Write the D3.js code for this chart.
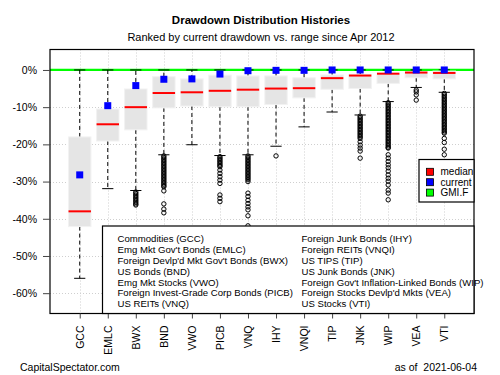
<!DOCTYPE html>
<html>
<head>
<meta charset="utf-8">
<script src="https://cdn.jsdelivr.net/npm/d3@7"></script>
<style>
body { margin: 0; background: #fff; }
text { font-family: "Liberation Sans", Arial, sans-serif; fill: #000; }
</style>
</head>
<body>
<svg id="svg"></svg>
<script>
var width = 500, height = 375;
var margin = {top: 49.5, bottom: 61.5, right: 26, left: 50};

// tickers, ranked by current drawdown
var tickers = ["GCC", "EMLC", "BWX", "BND", "VWO", "PICB", "VNQ", "IHY", "VNQI", "TIP", "JNK", "WIP", "VEA", "VTI"];
var names = ["Commodities (GCC)", "Emg Mkt Gov't Bonds (EMLC)", "Foreign Devlp'd Mkt Gov't Bonds (BWX)", "US Bonds (BND)",
	"Emg Mkt Stocks (VWO)", "Foreign Invest-Grade Corp Bonds (PICB)", "US REITs (VNQ)", "Foreign Junk Bonds (IHY)",
	"Foreign REITs (VNQI)", "US TIPS (TIP)", "US Junk Bonds (JNK)", "Foreign Gov't Inflation-Linked Bonds (WIP)",
	"Foreign Stocks Devlp'd Mkts (VEA)", "US Stocks (VTI)"];

// box stats in %
var boxTop    = [-18.0, -10.5, -5.1, -1.8, -2.4, -1.4, -1.6, -1.6, -2.1, -1.35, -1.2, -0.9, -0.45, -0.3];
var boxBottom = [-42.1, -19.1, -16.1, -10.2, -9.7, -9.9, -9.9, -9.3, -7.5, -5.2, -5.0, -3.6, -2.1, -2.4];
var medians   = [-38.0, -14.6, -10.0, -6.2, -6.0, -5.6, -5.3, -5.0, -4.9, -2.2, -1.5, -1.0, -0.7, -0.8];
var whiskLow  = [-56.0, -31.9, -32.4, -22.8, -20.1, -23.0, -22.8, -20.5, -15.3, -11.3, -12.1, -8.5, -4.7, -6.0];
var whiskHigh = [0, 0, 0, 0, 0, 0, 0, 0, 0, 0, 0, 0, 0, 0];
var current   = [-28.2, -9.6, -4.2, -2.5, -2.4, -1.1, -0.2, -0.1, -0.1, 0, 0, 0, 0, 0];

var outliers = [
	[],
	[],
	[-32.8, -33.2, -33.6, -34.0, -34.4, -34.8, -35.2, -35.6, -36.0, -36.3],
	[-23.1, -23.5, -23.9, -24.3, -24.7, -25.1, -25.5, -25.9, -26.3, -26.7, -27.1, -27.5, -27.9, -28.3, -28.7, -29.1, -29.5, -29.9, -30.3, -30.7, -31.1, -31.4, -32.5, -36.0, -37.4, -38.4],
	[],
	[-23.3, -23.7, -24.1, -24.5, -24.9, -25.3, -25.7, -26.0, -26.9, -27.8, -28.7, -29.6, -30.5, -33.6, -34.5, -35.4],
	[-23.1, -23.5, -23.9, -24.3, -24.7, -25.1, -25.5, -25.9, -26.3, -26.7, -27.1, -27.5, -27.9, -28.3, -28.7, -29.1, -29.5, -30.0, -33.1, -34.0, -35.0, -35.9, -36.8, -37.6, -39.2, -41.9],
	[-23.1],
	[],
	[],
	[-12.4, -12.8, -13.2, -13.6, -14.0, -14.4, -14.8, -15.2, -15.6, -16.0, -16.4, -16.8, -17.2, -17.6, -18.0, -18.4, -19.3, -20.2, -21.0, -21.8, -23.7],
	[-8.8, -9.2, -9.6, -10.0, -10.4, -10.8, -11.2, -11.6, -12.0, -12.4, -12.8, -13.2, -13.6, -14.0, -14.4, -14.8, -15.2, -15.6, -16.0, -16.4, -16.8, -17.2, -17.6, -18.0, -18.4, -18.8, -19.2, -19.6, -20.0, -20.4, -20.8, -21.0, -22.8, -23.7, -24.6, -25.5, -26.3, -27.2, -28.2, -29.1, -29.9, -30.9, -32.3, -33.1, -34.9],
	[-5.4, -5.9, -6.7, -8.1],
	[-6.3, -6.7, -7.1, -7.5, -7.9, -8.3, -8.7, -9.1, -9.5, -9.9, -10.3, -10.7, -11.1, -11.5, -11.9, -12.3, -12.7, -13.1, -13.5, -13.9, -14.3, -14.7, -15.1, -15.5, -15.9, -16.3, -16.7, -17.0, -18.4, -19.5, -21.3, -22.8]
];

var yTicks = [0, -10, -20, -30, -40, -50, -60];
var gmiLevel = 0;
var legendKeys = ["median", "current", "GMI.F"];
var legendColors = ["#ff0000", "#0000ff", "#00ff00"];

var svg = d3.select("#svg")
	.attr("width", width)
	.attr("height", height);

var x = d3.scaleLinear()
	.domain([-0.06, 15.06])
	.range([margin.left, width - margin.right]);

var y = d3.scaleLinear()
	.domain([-65.46, 5.5])
	.range([height - margin.bottom, margin.top]);

var boxW = 0.8, capW = 0.4;
var idx = d3.range(tickers.length);

// grid
var grid = svg.append("g")
	.attr("stroke", "#cfcfcf")
	.attr("stroke-dasharray", "1,2")
	.attr("stroke-width", 1);
grid.selectAll("line.v").data(idx).enter().append("line")
	.attr("x1", function(i) { return Math.round(x(i + 1)) + 0.5; })
	.attr("x2", function(i) { return Math.round(x(i + 1)) + 0.5; })
	.attr("y1", y.range()[1]).attr("y2", y.range()[0]);
grid.selectAll("line.h").data(yTicks).enter().append("line")
	.attr("x1", x.range()[0]).attr("x2", x.range()[1])
	.attr("y1", function(d) { return Math.round(y(d)) + 0.5; })
	.attr("y2", function(d) { return Math.round(y(d)) + 0.5; });

// green GMI.F line
svg.append("line")
	.attr("x1", x.range()[0]).attr("x2", x.range()[1])
	.attr("y1", y(gmiLevel)).attr("y2", y(gmiLevel))
	.attr("stroke", "#00ff00")
	.attr("stroke-width", 2.2);

var box = svg.append("g").selectAll("g")
	.data(idx)
	.enter().append("g");

// whiskers
box.append("line")
	.attr("x1", function(i) { return x(i + 1); })
	.attr("x2", function(i) { return x(i + 1); })
	.attr("y1", function(i) { return y(boxTop[i]); })
	.attr("y2", function(i) { return y(whiskHigh[i]); })
	.attr("stroke", "#000").attr("stroke-dasharray", "4,3");
box.append("line")
	.attr("x1", function(i) { return x(i + 1); })
	.attr("x2", function(i) { return x(i + 1); })
	.attr("y1", function(i) { return y(boxBottom[i]); })
	.attr("y2", function(i) { return y(whiskLow[i]); })
	.attr("stroke", "#000").attr("stroke-dasharray", "4,3");

// caps
box.append("line")
	.attr("x1", function(i) { return x(i + 1 - capW / 2); })
	.attr("x2", function(i) { return x(i + 1 + capW / 2); })
	.attr("y1", function(i) { return y(whiskHigh[i]); })
	.attr("y2", function(i) { return y(whiskHigh[i]); })
	.attr("stroke", "#000");
box.append("line")
	.attr("x1", function(i) { return x(i + 1 - capW / 2); })
	.attr("x2", function(i) { return x(i + 1 + capW / 2); })
	.attr("y1", function(i) { return y(whiskLow[i]); })
	.attr("y2", function(i) { return y(whiskLow[i]); })
	.attr("stroke", "#000");

// boxes
box.append("rect")
	.attr("x", function(i) { return x(i + 1 - boxW / 2); })
	.attr("width", x(boxW) - x(0))
	.attr("y", function(i) { return y(boxTop[i]); })
	.attr("height", function(i) { return y(boxBottom[i]) - y(boxTop[i]); })
	.attr("fill", "#e5e5e5")
	.attr("stroke", "#f2f2f2");

// medians
box.append("line")
	.attr("x1", function(i) { return x(i + 1 - boxW / 2); })
	.attr("x2", function(i) { return x(i + 1 + boxW / 2); })
	.attr("y1", function(i) { return y(medians[i]); })
	.attr("y2", function(i) { return y(medians[i]); })
	.attr("stroke", "#ff0000")
	.attr("stroke-width", 2);

// outliers
box.selectAll("circle")
	.data(function(i) { return outliers[i].map(function(v) { return {i: i, v: v}; }); })
	.enter().append("circle")
	.attr("cx", function(d) { return x(d.i + 1); })
	.attr("cy", function(d) { return y(d.v); })
	.attr("r", 2.2)
	.attr("fill", "none")
	.attr("stroke", "#000")
	.attr("stroke-width", 1);

// current drawdown
box.append("rect")
	.attr("x", function(i) { return x(i + 1) - 3.5; })
	.attr("y", function(i) { return y(current[i]) - 3.5; })
	.attr("width", 7).attr("height", 7)
	.attr("fill", "#0000ff");

// plot frame
svg.append("rect")
	.attr("x", x.range()[0]).attr("y", y.range()[1])
	.attr("width", x.range()[1] - x.range()[0])
	.attr("height", y.range()[0] - y.range()[1])
	.attr("fill", "none").attr("stroke", "#000").attr("stroke-width", 1.2);

// axes
var yAxis = svg.append("g")
	.attr("transform", "translate(" + x.range()[0] + ",0)")
	.call(d3.axisLeft(y).tickValues(yTicks).tickSize(7).tickPadding(6)
		.tickFormat(function(d) { return d + "%"; }));
yAxis.select(".domain").remove();
yAxis.selectAll("line").attr("stroke", "#444");
yAxis.selectAll("text").attr("font-size", 10.5).attr("font-family", "Liberation Sans, Arial, sans-serif").attr("fill", "#000");

var xAxis = svg.append("g")
	.attr("transform", "translate(0," + y.range()[0] + ")")
	.call(d3.axisBottom(x).tickValues(idx.map(function(i) { return i + 1; })).tickSize(5)
		.tickFormat(function(d) { return tickers[d - 1]; }));
xAxis.select(".domain").remove();
xAxis.selectAll("line").attr("stroke", "#444");
xAxis.selectAll("text")
	.attr("font-size", 10.5)
	.attr("font-family", "Liberation Sans, Arial, sans-serif")
	.attr("fill", "#000")
	.attr("text-anchor", "end")
	.attr("transform", "rotate(-90)")
	.attr("x", -12)
	.attr("y", 0)
	.attr("dy", "0.35em");

// bottom legend (asset names)
var leg = svg.append("g");
leg.append("rect")
	.attr("x", 102.5).attr("y", 226)
	.attr("width", x.range()[1] - 102.5)
	.attr("height", y.range()[0] - 226)
	.attr("fill", "#fff").attr("stroke", "#000").attr("stroke-width", 1.2);
leg.selectAll("text")
	.data(names)
	.enter().append("text")
	.attr("x", function(d, i) { return i < 7 ? 117.5 : 301.5; })
	.attr("y", function(d, i) { return 239 + (i % 7) * 10.8; })
	.attr("dy", "0.35em")
	.attr("font-size", 9.6)
	.text(function(d) { return d; });

// right legend
var leg2 = svg.append("g");
leg2.append("rect")
	.attr("x", 419).attr("y", 159.5)
	.attr("width", x.range()[1] - 419)
	.attr("height", 42.5)
	.attr("fill", "#fff").attr("stroke", "#000").attr("stroke-width", 1.2);
var li = leg2.selectAll("g.item")
	.data(legendKeys)
	.enter().append("g")
	.attr("transform", function(d, i) { return "translate(0," + (171.8 + i * 10.4) + ")"; });
li.append("rect")
	.attr("x", 426.5).attr("y", -3.5)
	.attr("width", 7).attr("height", 7)
	.attr("fill", function(d, i) { return legendColors[i]; })
	.attr("stroke", "#000").attr("stroke-width", 0.8);
li.append("text")
	.attr("x", 440.5).attr("dy", "0.35em")
	.attr("font-size", 10)
	.text(function(d) { return d; });

// titles
svg.append("text")
	.attr("x", 261).attr("y", 20)
	.attr("dy", "0.35em")
	.attr("text-anchor", "middle")
	.attr("font-size", 11.5)
	.attr("font-weight", "bold")
	.text("Drawdown Distribution Histories");
svg.append("text")
	.attr("x", 261).attr("y", 37.5)
	.attr("dy", "0.35em")
	.attr("text-anchor", "middle")
	.attr("font-size", 11)
	.text("Ranked by current drawdown vs. range since Apr 2012");

// footer
svg.append("text")
	.attr("x", 20).attr("y", 367)
	.attr("dy", "0.35em")
	.attr("font-size", 10.5)
	.text("CapitalSpectator.com");
svg.append("text")
	.attr("x", 477).attr("y", 367)
	.attr("dy", "0.35em")
	.attr("text-anchor", "end")
	.attr("font-size", 10.5)
	.style("white-space", "pre")
	.text("as of  2021-06-04");
</script>
</body>
</html>
